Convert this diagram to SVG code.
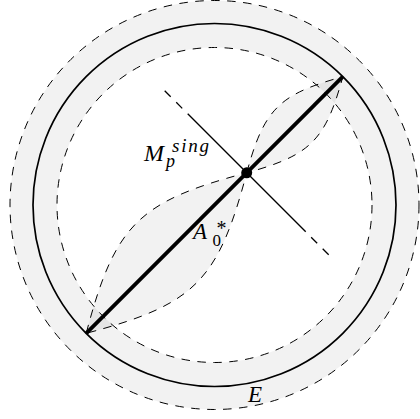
<svg xmlns="http://www.w3.org/2000/svg" width="420" height="419" viewBox="0 0 420 419">
<style>
.fill{fill:#000;fill-opacity:0.05;stroke:none}
.dash{fill:none;stroke:#000;stroke-width:1;stroke-dasharray:8.5 7.5}
.lbl{font-family:"Liberation Serif",serif;font-style:italic;fill:#000}
.up{font-family:"Liberation Serif",serif;fill:#000}
</style>
<rect width="420" height="419" fill="#fff"/>
<g id="region-E">
<path class="fill" fill-rule="evenodd" d="M214.5,0.5a204.5,204.5 0 1,0 0.01,0Z M214.5,47.5a157.5,157.5 0 1,0 0.01,0Z"/>
<circle class="dash" cx="214.5" cy="205" r="204.5"/>
<circle class="dash" cx="214.5" cy="205" r="157.5"/>
</g>
<g id="sphere">
<circle cx="214.5" cy="205" r="181.5" fill="none" stroke="#000" stroke-width="1.7"/>
</g>
<g id="lens-lower">
<path class="fill" d="M86.2,333.3 C114.8,224.8 138.1,201.5 246.7,172.8 C218.0,281.4 194.7,304.7 86.2,333.3Z"/>
<path class="dash" d="M86.2,333.3 C114.8,224.8 138.1,201.5 246.7,172.8 C218.0,281.4 194.7,304.7 86.2,333.3Z"/>
</g>
<g id="lens-upper">
<path class="fill" d="M246.7,172.8 C264.1,108.5 279.6,94.1 342.8,76.7 C325.4,140.9 310.0,155.4 246.7,172.8Z"/>
<path class="dash" d="M246.7,172.8 C264.1,108.5 279.6,94.1 342.8,76.7 C325.4,140.9 310.0,155.4 246.7,172.8Z"/>
</g>
<g id="connectors">
<line x1="86.2" y1="333.3" x2="342.8" y2="76.7" stroke="#000" stroke-width="3.8"/>
<line x1="187.7" y1="113.8" x2="305.7" y2="231.8" stroke="#000" stroke-width="1.3"/>
<line x1="164.7" y1="90.8" x2="187.7" y2="113.8" stroke="#000" stroke-width="1.3" stroke-dasharray="8.5 7.8"/>
<line x1="328.7" y1="254.8" x2="305.7" y2="231.8" stroke="#000" stroke-width="1.3" stroke-dasharray="8.5 7.8"/>
</g>
<g id="point">
<circle cx="246.7" cy="172.8" r="5.5" fill="#000"/>
</g>
<g id="label-M">
<text class="lbl" x="144" y="160.5" font-size="24">M</text>
<text class="lbl" x="172" y="151.5" font-size="19" letter-spacing="1.8">sing</text>
<text class="lbl" x="166" y="166.5" font-size="18">p</text>
</g>
<g id="label-A">
<text class="lbl" x="193" y="239" font-size="23">A</text>
<text class="up" x="212.5" y="246" font-size="17">0</text>
<text class="up" x="216.5" y="235.3" font-size="20">*</text>
</g>
<g id="label-E">
<text class="lbl" x="248" y="401.5" font-size="23">E</text>
</g>
</svg>
